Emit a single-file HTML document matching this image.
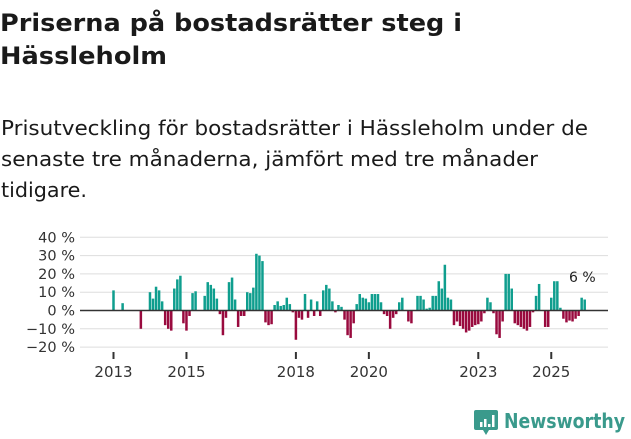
<!DOCTYPE html>
<html><head><meta charset="utf-8"><style>
body{margin:0;background:#fff;width:631px;height:439px;overflow:hidden;font-family:"DejaVu Sans","Liberation Sans",sans-serif;color:#1a1a1a}
svg{position:absolute;left:0;top:0}
</style></head><body>
<svg width="631" height="439">
<text x="0" y="31" font-size="24" font-weight="bold" fill="#1a1a1a" textLength="462" lengthAdjust="spacingAndGlyphs">Priserna på bostadsrätter steg i</text>
<text x="0" y="64" font-size="24" font-weight="bold" fill="#1a1a1a" textLength="167" lengthAdjust="spacingAndGlyphs">Hässleholm</text>
<text x="1" y="135" font-size="20" fill="#1a1a1a" textLength="587" lengthAdjust="spacingAndGlyphs">Prisutveckling för bostadsrätter i Hässleholm under de</text>
<text x="1" y="166" font-size="20" fill="#1a1a1a" textLength="537" lengthAdjust="spacingAndGlyphs">senaste tre månaderna, jämfört med tre månader</text>
<text x="1" y="197" font-size="20" fill="#1a1a1a" textLength="86" lengthAdjust="spacingAndGlyphs">tidigare.</text>
<g id="grid"></g><g id="bars"></g><g id="axes"></g>
<text x="569" y="282" font-size="14" fill="#222">6 %</text>
<g>
<path d="M476 410 h20 a2 2 0 0 1 2 2 v16 a2 2 0 0 1 -2 2 h-7 l-3 5 l-3 -5 h-7 a2 2 0 0 1 -2 -2 v-16 a2 2 0 0 1 2 -2z" fill="#3a9a8c"/>
<rect x="480" y="422" width="2.5" height="5" fill="#fff"/><rect x="484" y="419" width="2.5" height="8" fill="#fff"/><rect x="488" y="424" width="2.5" height="3" fill="#fff"/><rect x="492" y="415" width="2.5" height="12" fill="#fff"/>
<text x="504" y="428" font-size="20" font-weight="bold" fill="#3a9a8c" textLength="121" lengthAdjust="spacingAndGlyphs">Newsworthy</text>
</g>
</svg>
<script>
const yTicks=[40,30,20,10,0,-10,-20];
const yearLabels=[2013,2015,2018,2020,2023,2025];
const values=[11,0,0,4,0,0,0,0,0,-10,0,0,10,6.5,13,11,5,-8,-10,-11,12,17,19,-7,-11,-3,9.5,10.5,0,0,8,15.5,14,12,6.5,-2,-13.5,-4,15.5,18,6,-9,-3,-3,10,9.5,12.5,31,30,27,-6.5,-8,-7.5,3,5,2.5,3,7,3.5,-1,-16,-4,-5,9,-4,6,-3,5,-3,11,14,12,5,-1,3,
2,-5,-13.5,-15,-7,3.5,9,7,6.5,4.5,9,9,9,4.5,-2,-3,-10,-4,-2,4.5,7,0,-6,-7,0,8,8,6,1,1.5,8,8,16,12,25,7,6,-8,-6,-8.5,-10,-12,-11,-9,-8,-7.5,-6,-1.5,7,4.5,-1.5,-13,-15,-6,20,20,12,-7,-8,-9,-10,-11,-9,-1,8,14.5,0,-9,-9,7,16,16,1.5,-4.5,-6.5,-5.5,-6,-4.5,-3,7,6];
const NS='http://www.w3.org/2000/svg';
function y(v){return 310.5-v*1.83;}
function x(m){return 113.5+m*3.04;}
function mk(t,a,p){const e=document.createElementNS(NS,t);for(const k in a)e.setAttribute(k,a[k]);p.appendChild(e);return e;}
const grid=document.getElementById('grid'),bars=document.getElementById('bars'),axes=document.getElementById('axes');
yTicks.forEach(v=>{
 if(v!==0){const l=mk('line',{x1:80,x2:608,y1:y(v),y2:y(v),stroke:'#ddd','stroke-width':1},grid);
 
 }
 const t=mk('text',{x:75,y:y(v)+5,'text-anchor':'end','font-size':14.5,fill:'#333'},axes);
 t.textContent=(v<0?'\u2212'+(-v):v)+' %';
 
 
});
values.forEach((v,m)=>{
 if(!v)return;
 const r=mk('rect',{x:x(m)-1.25,width:2.5,y:Math.min(y(v),y(0)),height:Math.abs(y(v)-y(0)),fill:v>0?'#0f9e8e':'#990a3e'},bars);
 
 
});
const z=mk('line',{x1:80,x2:608,y1:y(0),y2:y(0),stroke:'#333','stroke-width':1.6},axes);


yearLabels.forEach(yr=>{
 const m=(yr-2013)*12;
 const tk=mk('line',{x1:x(m),x2:x(m),y1:352,y2:359,stroke:'#333','stroke-width':2},axes);
 
 
 const t=mk('text',{x:x(m),y:377,'text-anchor':'middle','font-size':15,fill:'#333'},axes);
 t.textContent=yr;
 
 
});
</script>
</body></html>
